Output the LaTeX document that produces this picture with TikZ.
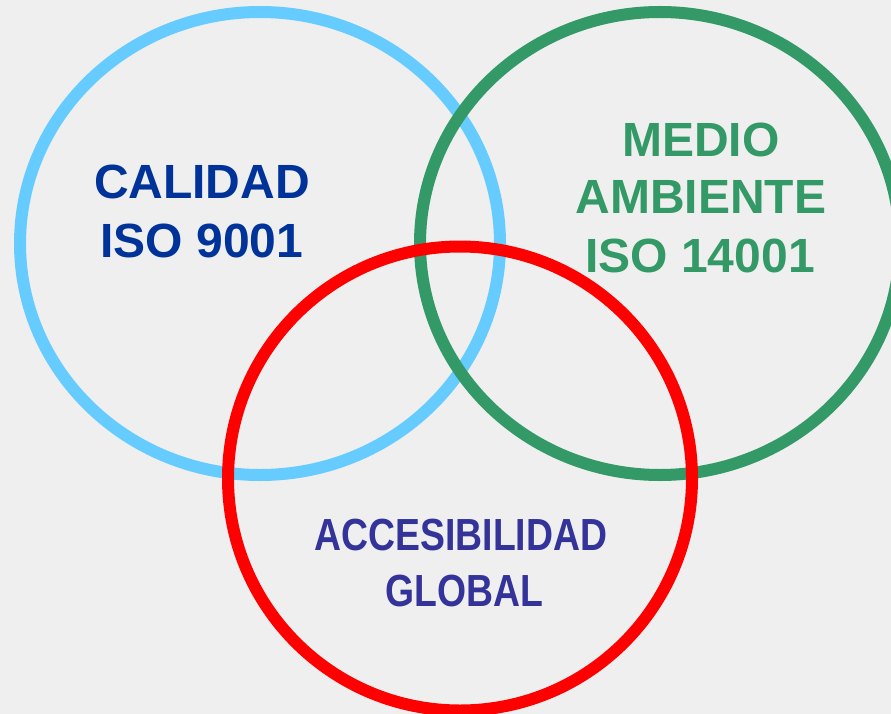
\documentclass[tikz,border=0pt]{standalone}
\usepackage{fontspec}
\setmainfont{Liberation Sans}
\newfontfamily\narrowfont[FakeStretch=0.83]{Liberation Sans}
\definecolor{bgc}{HTML}{EFEFEF}
\definecolor{ringblue}{HTML}{66CCFF}
\definecolor{ringgreen}{HTML}{339966}
\definecolor{ringred}{HTML}{FF0000}
\definecolor{txtblue}{HTML}{003399}
\definecolor{txtgreen}{HTML}{339966}
\definecolor{txtnavy}{HTML}{333399}
\tikzset{
  ring/.style={line width=12pt},
  bigtxt/.style={anchor=base, inner sep=0pt, font=\fontsize{48}{58}\selectfont\bfseries},
  narrowtxt/.style={anchor=base, inner sep=0pt, font=\fontsize{45}{56}\selectfont\narrowfont\bfseries}
}
\begin{document}
\begin{tikzpicture}[x=1pt,y=-1pt]
\fill[bgc] (0,0) rectangle (891,714);
\useasboundingbox (0,0) rectangle (891,714);
\coordinate (cb) at (260,243.5);
\coordinate (cg) at (660,243.5);
\coordinate (cr) at (460,478.5);
\draw[ring, ringblue] (cb) ellipse [x radius=240, y radius=231.5];
\draw[ring, ringgreen] (cg) ellipse [x radius=240, y radius=231.5];
\draw[ring, ringred] (cr) circle [radius=232];
\node[bigtxt, text=txtblue] (cal1) at (202,199) {CALIDAD};
\node[bigtxt, text=txtblue] (cal2) at (202,257) {ISO 9001};
\node[bigtxt, text=txtgreen] (med1) at (701,157) {MEDIO};
\node[bigtxt, text=txtgreen] (med2) at (701,214) {AMBIENTE};
\node[bigtxt, text=txtgreen] (med3) at (700,272) {ISO 14001};
\node[narrowtxt, text=txtnavy] (acc1) at (461,550) {ACCESIBILIDAD};
\node[narrowtxt, text=txtnavy] (acc2) at (464,606) {GLOBAL};
\end{tikzpicture}
\end{document}
